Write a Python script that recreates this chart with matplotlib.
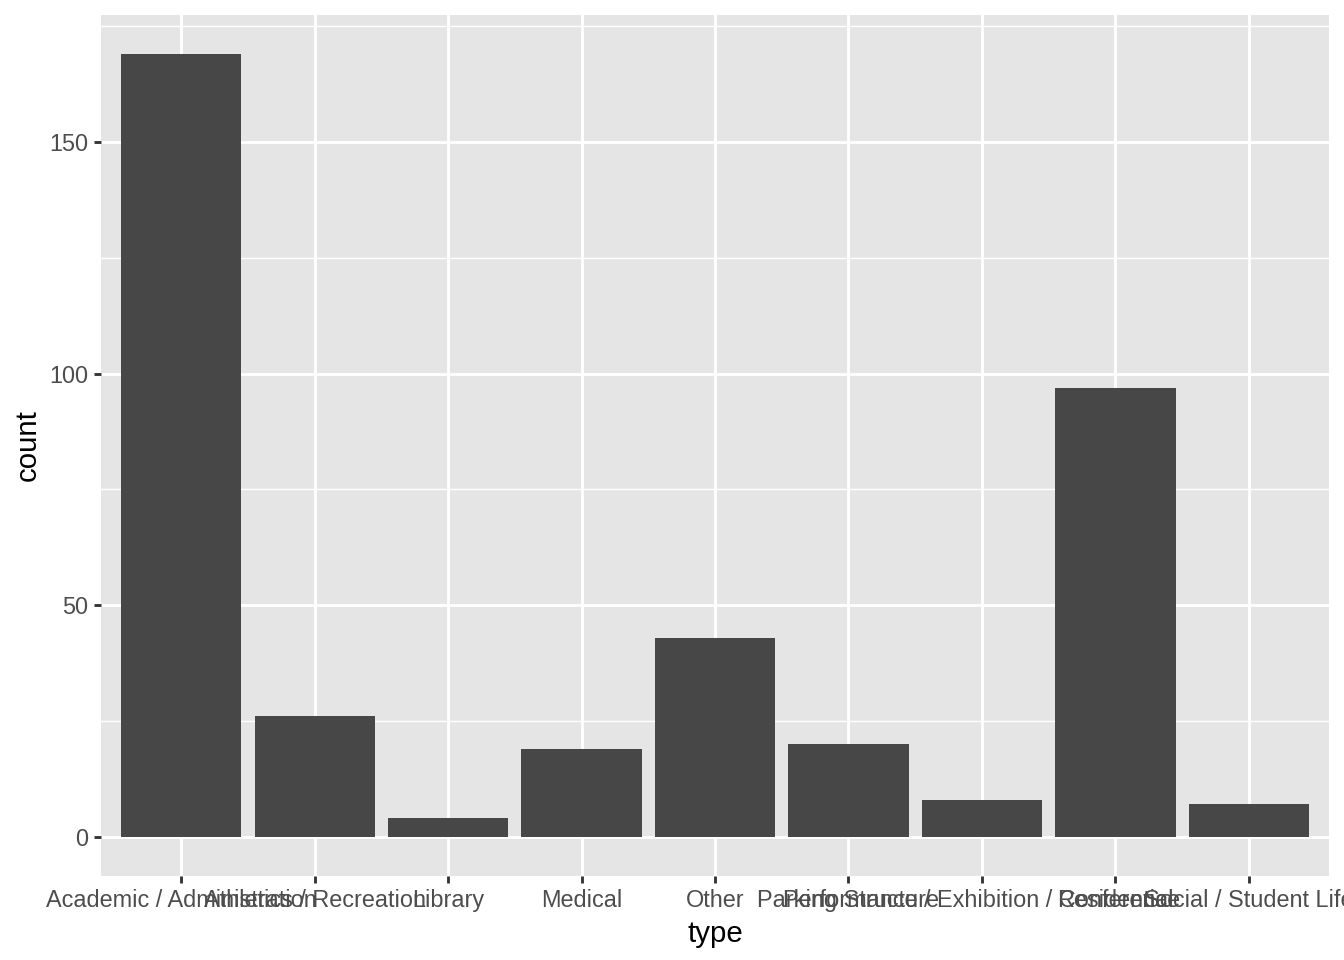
import os

os.environ.setdefault("MPLBACKEND", "Agg")

import matplotlib.pyplot as plt
from matplotlib.ticker import MultipleLocator

types = [
    "Academic / Administration",
    "Athletics / Recreation",
    "Library",
    "Medical",
    "Other",
    "Parking Structure",
    "Performance / Exhibition / Conference",
    "Residential",
    "Social / Student Life",
]
counts = [169, 26, 4, 19, 43, 20, 8, 97, 7]

plt.rcParams["font.family"] = ["Liberation Sans", "DejaVu Sans"]

fig = plt.figure(figsize=(7, 5), dpi=192)
ax = fig.add_axes([101 / 1344, 84 / 960, 1228 / 1344, 861 / 960])
ax.set_facecolor("#E5E5E5")

x = list(range(1, len(types) + 1))
ax.bar(x, counts, width=0.9, color="#474747", zorder=3)

ymax = max(counts)
ax.set_xlim(0.4, len(types) + 0.6)
ax.set_ylim(-0.05 * ymax, 1.05 * ymax)

ax.set_xticks(x)
ax.set_xticklabels(types)
ax.yaxis.set_major_locator(MultipleLocator(50))
ax.yaxis.set_minor_locator(MultipleLocator(25))

ax.grid(which="major", color="white", linewidth=1.07, zorder=1)
ax.grid(which="minor", axis="y", color="white", linewidth=0.53, zorder=1)
ax.set_axisbelow(True)

for s in ax.spines.values():
    s.set_visible(False)

ax.tick_params(which="major", length=2.75, width=1.07, color="#333333",
               labelsize=8.8, labelcolor="#4D4D4D", pad=2.2)
ax.tick_params(which="minor", length=0)

ax.set_xlabel("type", fontsize=11, color="black", labelpad=2.75)
ax.set_ylabel("count", fontsize=11, color="black", labelpad=2.75)

fig.savefig("out.png", dpi=192)
plt.close(fig)
